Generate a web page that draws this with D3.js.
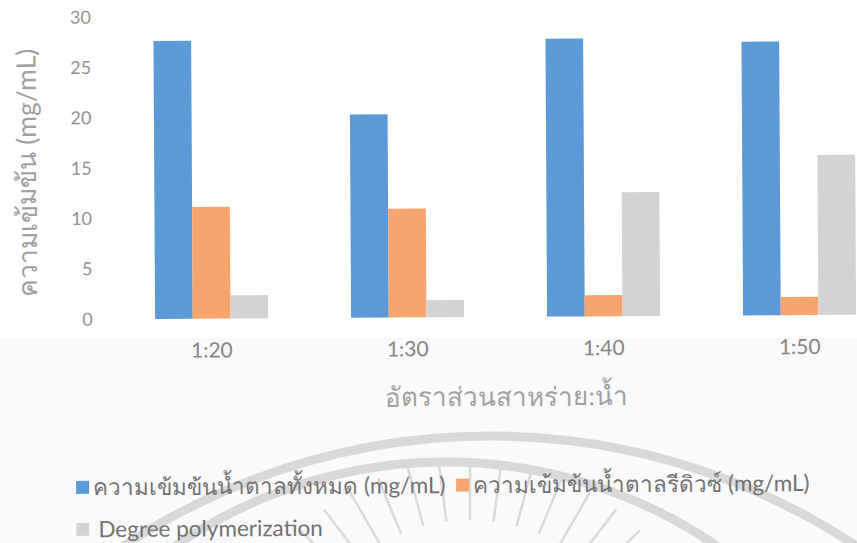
<!DOCTYPE html>
<html>
<head>
<meta charset="utf-8">
<script src="https://cdn.jsdelivr.net/npm/d3@7"></script>
<style>
  html, body { margin: 0; padding: 0; background: #ffffff; }
  svg { display: block; }
  text { font-family: Lato, "Noto Sans", "Open Sans", sans-serif; }
</style>
</head>
<body>
<svg id="chart" width="857" height="543"></svg>
<script>
// Ratios of seaweed to water
const categories = ["1:20", "1:30", "1:40", "1:50"];

// Series values (mg/mL)
const totalSugar = [27.6, 20.2, 27.6, 27.2];
const reducingSugar = [11.1, 10.8, 2.1, 1.8];
const degreePolymerization = [2.3, 1.7, 12.3, 15.9];

const seriesNames = [
  "ความเข้มข้นน้ำตาลทั้งหมด (mg/mL)",
  "ความเข้มข้นน้ำตาลรีดิวซ์ (mg/mL)",
  "Degree polymerization"
];
const seriesColors = ["#5b9ad6", "#f7a56f", "#d3d3d5"];

const yTicks = [0, 5, 10, 15, 20, 25, 30];
const yTitle = "ความเข้มข้น (mg/mL)";
const xTitle = "อัตราส่วนสาหร่าย:น้ำ";

const seriesValues = [totalSugar, reducingSugar, degreePolymerization];
const rows = categories.map((c, i) => ({
  category: c,
  values: seriesValues.map((s, k) => ({ key: k, value: s[i] }))
}));

const svg = d3.select("#chart");
const W = 857, H = 543;

// Paper tone below the plot
svg.append("rect").attr("x", 0).attr("y", 0).attr("width", W).attr("height", H).attr("fill", "#ffffff");
svg.append("rect").attr("x", 0).attr("y", 338).attr("width", W).attr("height", H - 338).attr("fill", "#fafafa");

// Faint seal in the background
const seal = svg.append("g").attr("fill", "none").attr("stroke", "#d9d9d9");
seal.append("circle").attr("cx", 490).attr("cy", 1101).attr("r", 665).attr("stroke-width", 9);
seal.append("circle").attr("cx", 446).attr("cy", 941).attr("r", 479).attr("stroke-width", 9);
const rayAngles = d3.range(-45, 46, 7.5);
seal.selectAll("line.ray").data(rayAngles).join("line")
  .attr("class", "ray")
  .attr("stroke-width", 2.5)
  .attr("x1", a => 470 + 180 * Math.sin(a * Math.PI / 180))
  .attr("y1", a => 700 - 180 * Math.cos(a * Math.PI / 180))
  .attr("x2", a => 470 + 240 * Math.sin(a * Math.PI / 180))
  .attr("y2", a => 700 - 240 * Math.cos(a * Math.PI / 180));

// Main chart, slightly skewed like the printed page
const g = svg.append("g").attr("transform", "rotate(-0.34, 480, 300)");

const x0 = d3.scaleBand().domain(categories).range([113.5, 897.5])
  .paddingInner(0.4235).paddingOuter(0.21175);
const x1 = d3.scaleBand().domain(d3.range(seriesValues.length)).range([0, x0.bandwidth()]);
const y = d3.scaleLinear().domain([0, 30]).range([317, 15]);

// Bars
g.append("g").selectAll("g").data(rows).join("g")
  .attr("transform", d => `translate(${x0(d.category)},0)`)
  .selectAll("rect").data(d => d.values).join("rect")
  .attr("x", d => x1(d.key))
  .attr("y", d => y(d.value))
  .attr("width", x1.bandwidth())
  .attr("height", d => y(0) - y(d.value))
  .attr("fill", d => seriesColors[d.key]);

// Y axis
const yAxis = g.append("g").attr("transform", "translate(113.5,0)")
  .call(d3.axisLeft(y).tickValues(yTicks).tickSize(0).tickPadding(21));
yAxis.select(".domain").remove();
yAxis.selectAll("text").attr("fill", "#939393").style("font-size", "18px");

// X axis
const xAxis = g.append("g").attr("transform", `translate(0,${y(0)})`)
  .call(d3.axisBottom(x0).tickSize(0).tickPadding(24));
xAxis.select(".domain").remove();
xAxis.selectAll("text").attr("fill", "#848484").style("font-size", "21px");

// Axis titles
g.append("text")
  .attr("x", 506).attr("y", 406)
  .attr("text-anchor", "middle")
  .attr("fill", "#a0a0a0").style("font-size", "26px")
  .text(xTitle);

g.append("text")
  .attr("transform", "translate(37,170) rotate(-90)")
  .attr("text-anchor", "middle")
  .attr("fill", "#a0a0a0").style("font-size", "26.5px")
  .text(yTitle);

// Legend
const legendItems = [
  { key: 0, x: 75, y: 485, tx: 17 },
  { key: 1, x: 455, y: 485, tx: 17 },
  { key: 2, x: 75, y: 527, tx: 22 }
];
const legend = g.append("g");
const li = legend.selectAll("g").data(legendItems).join("g")
  .attr("transform", d => `translate(${d.x},${d.y})`);
li.append("rect").attr("x", 0).attr("y", -6.5).attr("width", 13).attr("height", 13)
  .attr("fill", d => seriesColors[d.key]);
li.append("text").attr("x", d => d.tx).attr("y", 0).attr("dy", "0.35em")
  .attr("fill", "#727272").style("font-size", "22.5px")
  .text(d => seriesNames[d.key]);
</script>
</body>
</html>
